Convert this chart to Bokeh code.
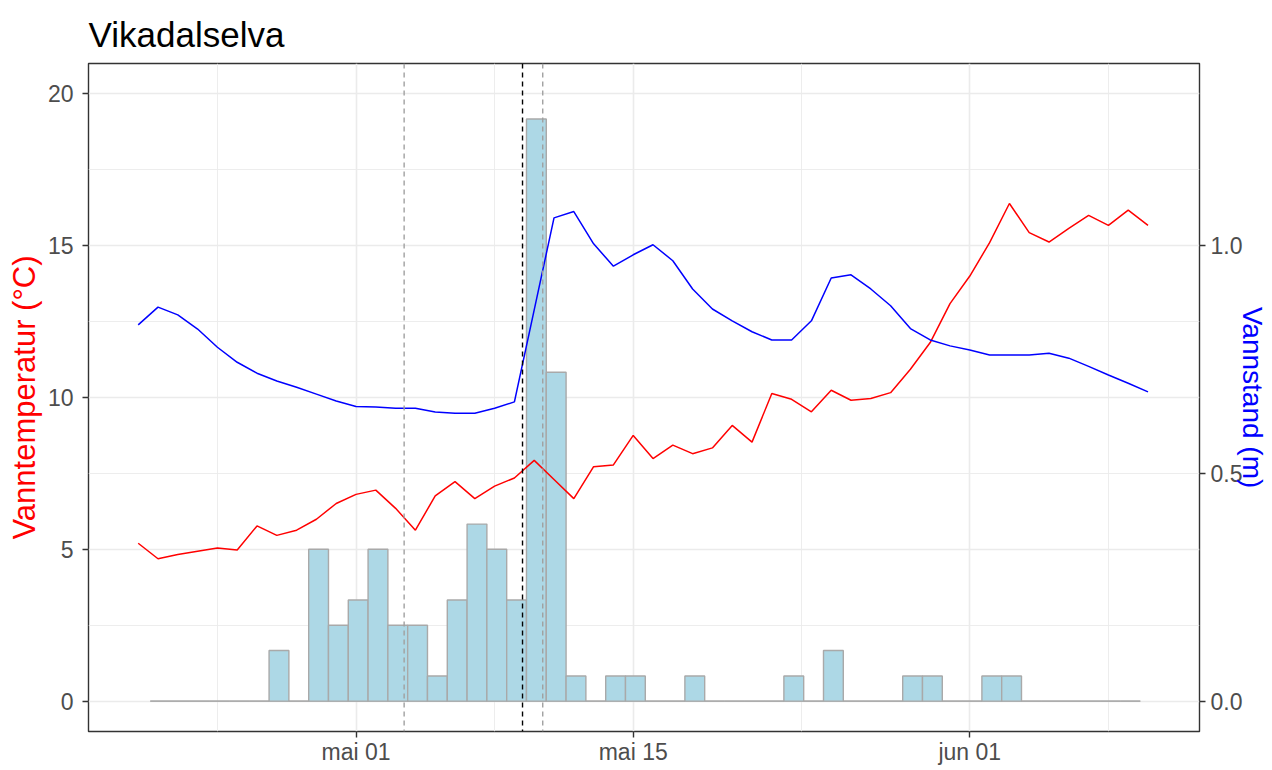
import pandas as pd
from bokeh.plotting import figure
from bokeh.models import (Range1d, LinearAxis, FixedTicker, Span,
                          PrintfTickFormatter, ColumnDataSource)
from bokeh.embed import file_html
from bokeh.resources import INLINE

# ---------------- data ----------------
title_text = "Vikadalselva"
left_label = "Vanntemperatur (°C)"
right_label = "Vannstand (m)"

first_day = "2023-04-20"          # daily series, Apr 20 .. Jun 10
water_temp = [5.20, 4.69, 4.83, 4.94, 5.04, 4.98, 5.77, 5.46, 5.63, 5.99,
              6.51, 6.81, 6.95, 6.35, 5.63, 6.76, 7.23, 6.67, 7.08, 7.35,
              7.93, 7.30, 6.67, 7.72, 7.78, 8.75, 7.99, 8.43, 8.15, 8.34,
              9.08, 8.53, 10.13, 9.94, 9.53, 10.24, 9.91, 9.97, 10.16, 10.93,
              11.81, 13.09, 14.00, 15.10, 16.39, 15.43, 15.12, 15.57, 16.00, 15.67,
              16.17, 15.67]
water_level = [0.826, 0.865, 0.848, 0.817, 0.777, 0.744, 0.720, 0.703, 0.689, 0.674,
               0.659, 0.647, 0.646, 0.643, 0.643, 0.635, 0.632, 0.632, 0.643, 0.657,
               0.859, 1.061, 1.075, 1.004, 0.955, 0.980, 1.002, 0.967, 0.905, 0.861,
               0.835, 0.811, 0.793, 0.793, 0.835, 0.929, 0.936, 0.905, 0.868, 0.818,
               0.793, 0.780, 0.771, 0.760, 0.760, 0.760, 0.764, 0.753, 0.735, 0.716,
               0.698, 0.679]

hist_start = "2023-04-20 14:38"   # first bin edge, bins one day wide
hist_values = [0, 0, 0, 0, 0, 0, 1.67, 0, 5.00, 2.50,
               3.33, 5.00, 2.50, 2.50, 0.83, 3.33, 5.83, 5.00, 3.33, 19.17,
               10.83, 0.83, 0, 0.83, 0.83, 0, 0, 0.83, 0, 0,
               0, 0, 0.83, 0, 1.67, 0, 0, 0, 0.83, 0.83,
               0, 0, 0.83, 0.83, 0, 0, 0, 0, 0, 0]

grey_marker_times = ["2023-05-03 10:20", "2023-05-10 10:20"]
black_marker_times = ["2023-05-09 09:50"]

x_limits = ["2023-04-17 11:45", "2023-06-12 14:24"]
x_tick_dates = ["2023-05-01", "2023-05-15", "2023-06-01"]
x_tick_labels = ["mai 01", "mai 15", "jun 01"]
x_minor_dates = ["2023-04-24", "2023-05-08", "2023-05-23 12:00", "2023-06-08"]
y_limits = [-1.0, 21.0]
y_ticks = [0, 5, 10, 15, 20]
y_minor = [2.5, 7.5, 12.5, 17.5]
level_ticks = [0.0, 0.5, 1.0]
level_per_degree = 1 / 15          # secondary axis transformation

# ---------------- helpers ----------------
DAY_MS = 86400000.0


def ms(s):
    return pd.Timestamp(s).value / 1e6


day_ms = [ms(d) for d in pd.date_range(first_day, periods=len(water_temp), freq="D")]
h0 = ms(hist_start)
bin_left = [h0 + k * DAY_MS for k in range(len(hist_values))]
bin_right = [b + DAY_MS for b in bin_left]

FONT = "Liberation Sans"
GRID = "#EBEBEB"
DARK = "#333333"
TICKTXT = "#4D4D4D"

p = figure(width=1272, height=770, x_axis_type="datetime",
           output_backend="svg", toolbar_location=None,
           x_range=Range1d(ms(x_limits[0]), ms(x_limits[1])),
           y_range=Range1d(y_limits[0], y_limits[1]),
           min_border_left=88, min_border_right=73,
           min_border_top=63, min_border_bottom=39)
p.extra_y_ranges = {"level": Range1d(y_limits[0] * level_per_degree,
                                     y_limits[1] * level_per_degree)}

p.background_fill_color = "white"
p.border_fill_color = "white"
p.outline_line_color = DARK
p.outline_line_width = 1.4

p.title.text = title_text
p.title.text_font = FONT
p.title.text_font_size = "35px"
p.title.text_font_style = "normal"
p.title.text_color = "black"
p.title.standoff = 19

# grids
p.xgrid.grid_line_color = GRID
p.xgrid.grid_line_width = 1.6
p.xgrid.minor_grid_line_color = GRID
p.xgrid.minor_grid_line_width = 0.9
p.ygrid.grid_line_color = GRID
p.ygrid.grid_line_width = 1.6
p.ygrid.minor_grid_line_color = GRID
p.ygrid.minor_grid_line_width = 0.9

# axes
xax = p.xaxis[0]
xax.ticker = FixedTicker(ticks=[ms(d) for d in x_tick_dates],
                         minor_ticks=[ms(d) for d in x_minor_dates])
xax.major_label_overrides = {ms(d): lab for d, lab in zip(x_tick_dates, x_tick_labels)}

yax = p.yaxis[0]
yax.ticker = FixedTicker(ticks=y_ticks, minor_ticks=y_minor)
yax.axis_label = left_label
yax.axis_label_text_color = "red"

rax = LinearAxis(y_range_name="level", ticker=FixedTicker(ticks=level_ticks),
                 formatter=PrintfTickFormatter(format="%.1f"),
                 axis_label=right_label)
rax.axis_label_text_color = "blue"
p.add_layout(rax, "right")

for ax in (xax, yax, rax):
    ax.axis_line_color = None
    ax.major_tick_line_color = DARK
    ax.major_tick_line_width = 1.4
    ax.major_tick_out = 6
    ax.major_tick_in = 0
    ax.minor_tick_line_color = None
    ax.major_label_text_font = FONT
    ax.major_label_text_font_size = "23px"
    ax.major_label_text_color = TICKTXT
    ax.axis_label_text_font = FONT
    ax.axis_label_text_font_style = "normal"
xax.major_label_standoff = 1
yax.major_label_standoff = 9
yax.axis_label_standoff = 3
yax.axis_label_text_font_size = "31px"
rax.major_label_standoff = 5
rax.axis_label_standoff = -8
rax.axis_label_text_font_size = "28px"

# histogram
hist_src = ColumnDataSource(dict(left=bin_left, right=bin_right, top=hist_values))
p.line(x=[bin_left[0], bin_right[-1]], y=[0, 0], line_color="#A9A9A9", line_width=1.4)
p.quad(left="left", right="right", bottom=0, top="top", source=hist_src,
       fill_color="#ADD8E6", line_color="#A9A9A9", line_width=1.4)

# lines
p.line(x=day_ms, y=water_temp, line_color="red", line_width=1.5)
p.line(x=day_ms, y=water_level, line_color="blue", line_width=1.5, y_range_name="level")

# vertical markers
for t in grey_marker_times:
    p.add_layout(Span(location=ms(t), dimension="height", line_color="#A0A0A0",
                      line_dash="5 4", line_width=1.4))
for t in black_marker_times:
    p.add_layout(Span(location=ms(t), dimension="height", line_color="black",
                      line_dash="5 4", line_width=1.4))

open("out.html", "w").write(file_html(p, INLINE))
